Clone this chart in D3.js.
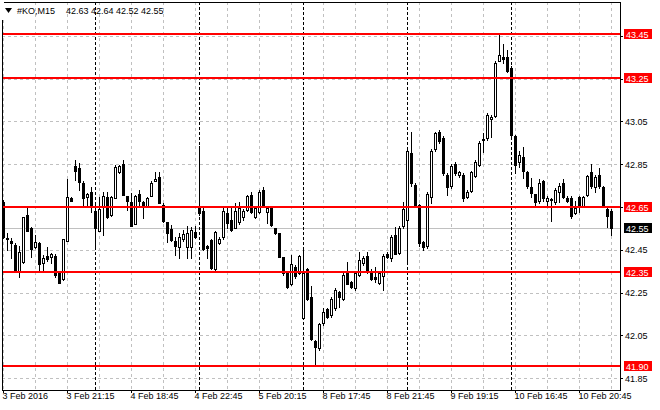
<!DOCTYPE html>
<html><head><meta charset="utf-8">
<script src="https://cdn.jsdelivr.net/npm/d3@7"></script>
<style>html,body{margin:0;padding:0;background:#fff;}svg{display:block;}text{font-family:"Liberation Sans",Arial,sans-serif;font-size:9px;}</style>
</head><body>
<svg id="c" width="660" height="410"></svg>
<script>
const symbol = "#KO,M15";
const timeLabels = ["3 Feb 2016","3 Feb 21:15","4 Feb 18:45","4 Feb 22:45","5 Feb 20:15","8 Feb 17:45","8 Feb 21:45","9 Feb 19:15","10 Feb 16:45","10 Feb 20:45"];
const labelBars = [0,16,32,48,64,80,96,112,128,144];
const daySeparators = [23,49,75,101,127];
const priceTicks = [41.85,42.05,42.25,42.45,42.65,42.85,43.05,43.25,43.45];
const levels = [43.456,43.254,42.651,42.348,41.907];
const levelLabels = ["43.45","43.25","42.65","42.35","41.90"];
const bid = 42.55;
const open = [42.675,42.505,42.491,42.473,42.350,42.395,42.613,42.550,42.462,42.480,42.390,42.421,42.418,42.421,42.345,42.312,42.491,42.691,42.841,42.831,
42.764,42.698,42.722,42.631,42.540,42.652,42.698,42.613,42.691,42.812,42.851,42.701,42.675,42.571,42.711,42.675,42.656,42.701,42.772,42.789,
42.659,42.578,42.546,42.491,42.462,42.499,42.462,42.465,42.535,42.648,42.633,42.469,42.496,42.359,42.480,42.508,42.624,42.589,42.550,42.581,
42.602,42.636,42.706,42.602,42.628,42.729,42.628,42.644,42.550,42.527,42.415,42.340,42.290,42.368,42.340,42.130,42.359,42.231,42.024,41.990,
42.110,42.172,42.145,42.177,42.251,42.219,42.345,42.301,42.270,42.332,42.390,42.421,42.348,42.324,42.296,42.328,42.430,42.410,42.519,42.437,
42.561,42.589,42.904,42.753,42.659,42.488,42.469,42.698,42.919,42.999,42.971,42.799,42.748,42.851,42.799,42.799,42.698,42.726,42.796,42.846,
42.963,42.971,43.061,43.077,43.332,43.349,43.349,43.298,42.981,42.859,42.882,42.812,42.742,42.709,42.680,42.771,42.680,42.687,42.672,42.718,
42.760,42.693,42.690,42.620,42.698,42.656,42.706,42.812,42.742,42.800,42.742,42.641,42.630];
const high = [42.683,42.527,42.504,42.480,42.470,42.605,42.644,42.555,42.519,42.485,42.426,42.462,42.434,42.430,42.350,42.500,42.779,42.695,42.870,42.854,
42.770,42.714,42.745,42.659,42.698,42.722,42.722,42.700,42.846,42.846,42.870,42.703,42.714,42.705,42.729,42.680,42.695,42.770,42.812,42.812,
42.670,42.580,42.566,42.512,42.527,42.543,42.561,42.555,42.561,42.935,42.644,42.472,42.500,42.540,42.510,42.644,42.644,42.644,42.667,42.675,
42.640,42.706,42.722,42.650,42.729,42.745,42.650,42.648,42.552,42.530,42.418,42.342,42.426,42.379,42.426,42.449,42.365,42.281,42.030,42.110,
42.177,42.180,42.230,42.273,42.260,42.340,42.395,42.305,42.350,42.441,42.420,42.441,42.360,42.368,42.350,42.430,42.440,42.520,42.558,42.560,
42.675,42.930,42.999,42.760,42.662,42.490,42.720,42.920,43.000,43.010,42.980,42.810,42.850,42.860,42.820,42.810,42.730,42.820,42.870,42.960,
42.994,43.090,43.080,43.330,43.461,43.411,43.383,43.310,42.985,42.911,42.932,42.820,42.784,42.712,42.781,42.776,42.700,42.694,42.740,42.760,
42.781,42.700,42.700,42.678,42.700,42.700,42.800,42.849,42.800,42.831,42.750,42.645,42.640];
const low = [42.505,42.449,42.410,42.348,42.325,42.390,42.540,42.418,42.460,42.356,42.356,42.399,42.387,42.325,42.295,42.309,42.490,42.678,42.776,42.729,
42.659,42.659,42.628,42.457,42.540,42.519,42.600,42.610,42.690,42.807,42.706,42.636,42.561,42.570,42.652,42.597,42.650,42.700,42.770,42.670,
42.580,42.488,42.490,42.426,42.410,42.490,42.410,42.410,42.505,42.613,42.450,42.410,42.360,42.348,42.475,42.500,42.550,42.540,42.550,42.570,
42.590,42.630,42.620,42.600,42.620,42.650,42.574,42.560,42.525,42.415,42.332,42.270,42.285,42.320,42.338,42.125,42.215,42.030,41.912,41.982,
42.100,42.130,42.138,42.170,42.184,42.215,42.290,42.270,42.262,42.330,42.380,42.340,42.310,42.300,42.290,42.262,42.410,42.400,42.430,42.430,
42.551,42.400,42.750,42.650,42.470,42.449,42.460,42.670,42.910,42.950,42.800,42.706,42.740,42.800,42.790,42.680,42.690,42.720,42.790,42.840,
42.908,42.963,42.978,43.070,43.330,43.321,43.280,42.980,42.807,42.838,42.787,42.740,42.698,42.651,42.670,42.680,42.651,42.586,42.665,42.672,
42.690,42.675,42.600,42.615,42.628,42.650,42.700,42.740,42.722,42.740,42.650,42.558,42.520];
const close = [42.508,42.500,42.480,42.353,42.440,42.602,42.540,42.452,42.488,42.384,42.410,42.409,42.429,42.332,42.297,42.499,42.698,42.680,42.818,42.768,
42.691,42.711,42.652,42.550,42.639,42.701,42.605,42.698,42.838,42.841,42.706,42.680,42.561,42.701,42.678,42.656,42.691,42.764,42.781,42.670,
42.586,42.530,42.496,42.468,42.508,42.522,42.530,42.543,42.508,42.620,42.452,42.457,42.367,42.535,42.501,42.633,42.577,42.543,42.633,42.644,
42.633,42.701,42.628,42.644,42.719,42.652,42.644,42.566,42.530,42.418,42.340,42.278,42.384,42.329,42.421,42.340,42.219,42.032,41.998,42.103,
42.159,42.138,42.220,42.262,42.228,42.332,42.290,42.278,42.340,42.402,42.410,42.348,42.312,42.312,42.340,42.421,42.418,42.508,42.430,42.550,
42.639,42.913,42.760,42.655,42.480,42.465,42.709,42.911,42.994,42.960,42.810,42.742,42.841,42.810,42.812,42.690,42.718,42.812,42.859,42.947,
42.966,43.080,43.072,43.321,43.360,43.340,43.287,42.986,42.846,42.893,42.820,42.750,42.717,42.672,42.760,42.690,42.692,42.684,42.729,42.750,
42.698,42.679,42.609,42.647,42.651,42.698,42.796,42.750,42.792,42.750,42.651,42.609,42.550];

const svg = d3.select("#c");
const L = 2, R = 620, T = 2, B = 390;
const n = open.length;
const x = d3.scaleLinear().domain([0, n - 1]).range([3, 3 + 4 * (n - 1)]);
const y = d3.scaleLinear().domain([41.85, 43.45]).range([378.3, 35.7]);
const py = p => Math.round(y(p));
const f2 = d3.format(".2f");

svg.append("rect").attr("width",660).attr("height",410).attr("fill","#fff");

const g = svg.append("g").attr("shape-rendering","crispEdges");
g.selectAll(".hg").data(priceTicks).join("line")
  .attr("x1",L).attr("x2",R).attr("y1",d=>py(d)+0.5).attr("y2",d=>py(d)+0.5)
  .attr("stroke","#c0c0c0").attr("stroke-dasharray","3,3");
const vg = d3.range(0, n, 8);
g.selectAll(".vg").data(vg).join("line")
  .attr("x1",d=>x(d)+0.5).attr("x2",d=>x(d)+0.5).attr("y1",T).attr("y2",B)
  .attr("stroke","#c0c0c0").attr("stroke-dasharray","3,3");
g.append("line").attr("x1",L).attr("x2",R).attr("y1",py(bid)+0.5).attr("y2",py(bid)+0.5).attr("stroke","#c0c0c0");
g.selectAll(".sep").data(daySeparators).join("line")
  .attr("x1",d=>x(d)+0.5).attr("x2",d=>x(d)+0.5).attr("y1",T).attr("y2",B)
  .attr("stroke","#000").attr("stroke-dasharray","3,2");

const idx = d3.range(n);
const cg = g.append("g");
cg.selectAll(".wick").data(idx).join("line")
  .attr("x1",i=>x(i)+0.5).attr("x2",i=>x(i)+0.5)
  .attr("y1",i=>py(high[i])).attr("y2",i=>py(low[i])+1)
  .attr("stroke","#000");
cg.selectAll(".body").data(idx).join("rect")
  .each(function(i){
    const top = py(Math.max(open[i],close[i])), bot = py(Math.min(open[i],close[i]));
    const s = d3.select(this);
    if (close[i] >= open[i]) {
      s.attr("x",x(i)-0.5).attr("width",2).attr("y",top+0.5).attr("height",Math.max(0,bot-top))
       .attr("fill","#fff").attr("stroke","#000");
    } else {
      s.attr("x",x(i)-1).attr("width",3).attr("y",top).attr("height",Math.max(1,bot-top+1))
       .attr("fill","#000");
    }
  });

g.selectAll(".lvl").data(levels).join("line")
  .attr("x1",L).attr("x2",R).attr("y1",d=>py(d)).attr("y2",d=>py(d))
  .attr("stroke","#ff0000").attr("stroke-width",2);

g.append("path").attr("d",`M${L+0.5},${B+0.5}V${T+0.5}H${R+0.5}V${B+0.5}Z`).attr("fill","none").attr("stroke","#000");

const xa = d3.axisBottom(x).tickValues(labelBars).tickSize(3).tickPadding(0)
  .tickFormat((d,k)=>timeLabels[k]);
const xg = svg.append("g").attr("transform",`translate(0,${B})`).call(xa);
xg.select(".domain").remove();
xg.selectAll("text").attr("text-anchor","start").attr("dx",-1).attr("fill","#000")
  .style("font-family","'Liberation Sans',Arial,sans-serif").style("font-size","9px");
xg.selectAll("line").attr("stroke","#000").attr("shape-rendering","crispEdges");

// tick labels hidden where a level label box covers them
const covered = d => levelLabels.includes(f2(d));
const ya = d3.axisRight(y).tickValues(priceTicks).tickSize(3).tickPadding(2)
  .tickFormat(d => covered(d) ? "" : f2(d));
const yg = svg.append("g").attr("transform",`translate(${R},0)`).call(ya);
yg.select(".domain").remove();
yg.selectAll("text").attr("fill","#000").style("font-family","'Liberation Sans',Arial,sans-serif").style("font-size","9px");
yg.selectAll("line").attr("stroke","#000").attr("shape-rendering","crispEdges");

const lbl = svg.append("g");
lbl.selectAll("rect").data(levels).join("rect")
  .attr("x",624).attr("width",28).attr("y",d=>py(d)-5).attr("height",10).attr("fill","#ff0000");
lbl.selectAll("text").data(levels).join("text")
  .attr("x",626).attr("y",d=>py(d)+3.5).attr("fill","#fff").text((d,k)=>levelLabels[k]);
lbl.append("rect").attr("x",624).attr("width",28).attr("y",py(bid)-5).attr("height",10).attr("fill","#000");
lbl.append("text").attr("x",626).attr("y",py(bid)+3.5).attr("fill","#fff").text(f2(bid));

const hd = svg.append("g");
hd.append("rect").attr("x",0).attr("y",0).attr("width",4).attr("height",20).attr("fill","#fff");
hd.append("path").attr("d","M5,8H12L8.5,13Z").attr("fill","#000");
hd.append("text").attr("x",17).attr("y",14).attr("fill","#000").text(symbol);
const last = n - 1;
const hv = [open[last], high[last], low[last], close[last]];
hd.append("text").attr("x",66).attr("y",14).attr("fill","#000").text(hv.map(f2).join(" "));
</script>
</body></html>
